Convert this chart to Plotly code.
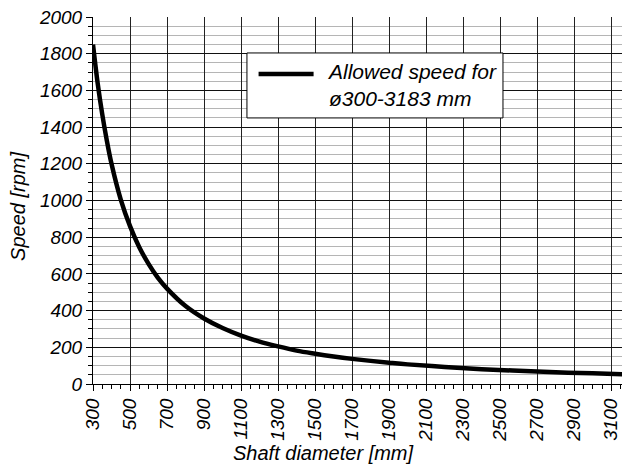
import plotly.graph_objects as go

# shaft diameter [mm] and allowed speed [rpm]
diameter = [300, 325, 350, 375, 400, 450, 500, 550, 600, 650, 700, 800, 900, 1000,
            1100, 1200, 1300, 1400, 1500, 1600, 1700, 1800, 1900, 2000, 2200, 2400,
            2600, 2800, 3000, 3183]
speed = [1850, 1640, 1470, 1325, 1200, 1005, 860, 745, 655, 580, 520, 425, 357, 305,
         264, 231, 205, 182, 165, 150, 137, 126, 116, 107, 93, 81, 72, 64, 58, 53]

x_ticks = list(range(300, 3101, 200))
y_ticks = list(range(0, 2001, 200))
legend_text = 'Allowed speed for<br>ø300-3183 mm'

FAMILY = 'Liberation Sans, Arial, sans-serif'
tick_font = dict(family=FAMILY, size=19, color='#000000', style='italic')
title_font = dict(family=FAMILY, size=20, color='#000000', style='italic')
legend_font = dict(family=FAMILY, size=21, color='#000000', style='italic')

fig = go.Figure()
fig.add_trace(go.Scatter(
    x=diameter, y=speed, mode='lines', line=dict(color='black', width=4.5, shape='spline'),
    name=legend_text, showlegend=False))

fig.update_layout(
    width=622, height=470,
    paper_bgcolor='white', plot_bgcolor='white',
    margin=dict(l=93, r=0, t=17, b=86),
    font=tick_font,
    showlegend=False,
)

fig.update_xaxes(
    range=[300, 3158], tickvals=x_ticks, tickangle=-90, automargin=False,
    showline=True, linecolor='black', linewidth=1,
    showgrid=True, gridcolor='#222222', gridwidth=1,
    ticks='outside', ticklen=6, tickcolor='black',
    minor=dict(dtick=50, tick0=300, ticks='outside', ticklen=4, tickcolor='black', showgrid=False),
    zeroline=False, tickfont=tick_font,
)
fig.update_yaxes(
    range=[0, 2000], tickvals=y_ticks, automargin=False,
    showline=True, linecolor='black', linewidth=1,
    showgrid=True, gridcolor='#111111', gridwidth=1,
    ticks='outside', ticklen=6, tickcolor='black',
    minor=dict(dtick=50, tick0=0, ticks='outside', ticklen=4, tickcolor='black',
               showgrid=True, gridcolor='#b5b5b5', gridwidth=1),
    zeroline=False, tickfont=tick_font,
)

# axis titles
fig.add_annotation(text='Shaft diameter [mm]', xref='paper', yref='paper', x=0.435, y=-0.188,
                   showarrow=False, font=title_font, xanchor='center', yanchor='middle')
fig.add_annotation(text='Speed [rpm]', xref='paper', yref='paper', x=-0.142, y=0.485,
                   showarrow=False, font=title_font, textangle=-90,
                   xanchor='center', yanchor='middle')

# legend box
fig.add_shape(type='rect', xref='paper', yref='paper', x0=0.291, x1=0.775, y0=0.725, y1=0.902,
              fillcolor='white', line=dict(color='black', width=1), layer='above')
fig.add_shape(type='line', xref='paper', yref='paper', x0=0.313, x1=0.417, y0=0.845, y1=0.845,
              line=dict(color='black', width=4.5), layer='above')
fig.add_annotation(text=legend_text, xref='paper', yref='paper', x=0.4386, y=0.815,
                   showarrow=False, font=legend_font, align='left',
                   xanchor='left', yanchor='middle')

# page body has a default 8px margin; drop it so the figure sits at the window's corner
fig.write_html("out.html", config={'displayModeBar': False},
               post_script="document.body.style.margin='0';")
